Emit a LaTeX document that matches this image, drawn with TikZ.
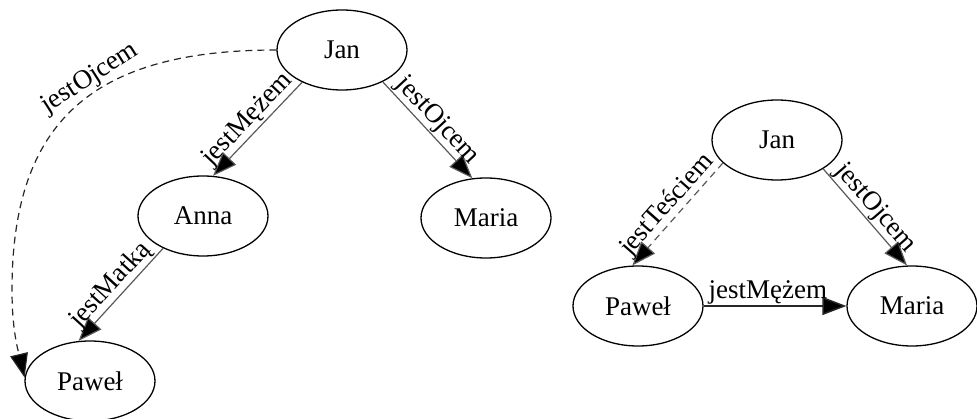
\documentclass[tikz,border=0pt]{standalone}
\usepackage{fontspec}
\setmainfont{Liberation Serif}
\usetikzlibrary{shapes.geometric,arrows.meta}
\begin{document}
\begin{tikzpicture}[x=1pt,y=-1pt,
  every node/.style={font=\fontsize{27}{31}\selectfont},
  ent/.style={ellipse,draw=black,line width=1.3pt,minimum width=130pt,minimum height=80pt,inner sep=0pt},
  edge/.style={draw=black!65,line width=1.2pt,-{Triangle[length=24pt,width=18pt,fill=black]}},
  edgeblk/.style={draw=black!85,line width=1.5pt,-{Triangle[length=24pt,width=18pt,fill=black]}},
  dsh/.style={dash pattern=on 7pt off 5pt},
  lbl/.style={sloped,above,inner sep=1pt}]
\useasboundingbox (0,0) rectangle (977,419);
% left graph
\node[ent] (janL) at (342,50) {Jan};
\node[ent] (anna) at (203,216) {Anna};
\node[ent] (pawL) at (90,381) {Paweł};
\node[ent] (mariaL) at (486,218) {Maria};
\draw[edge] (janL.-141) -- node[lbl]{jestMężem} (anna.76);
\draw[edge] (janL.-38) -- node[lbl]{jestOjcem} (mariaL.109);
\draw[edge] (anna.-141) -- node[lbl]{jestMatką} (pawL.106);
\draw[edge,draw=black!85,dsh] (janL.west) .. controls (92,50) and (12,122) .. node[lbl,pos=0.42]{jestOjcem} (12,290) .. controls (12,330) and (18,350) .. (pawL.177);
% right graph
\node[ent] (janR) at (777,140) {Jan};
\node[ent] (pawR) at (638,306) {Paweł};
\node[ent] (mariaR) at (912,306) {Maria};
\draw[edge,dsh] (janR.203) -- node[lbl]{jestTeściem} (pawR.98);
\draw[edge] (janR.-32) -- node[lbl]{jestOjcem} (mariaR.97);
\draw[edgeblk] (pawR.east) -- node[lbl,pos=0.45]{jestMężem} (mariaR.west);
\end{tikzpicture}
\end{document}
